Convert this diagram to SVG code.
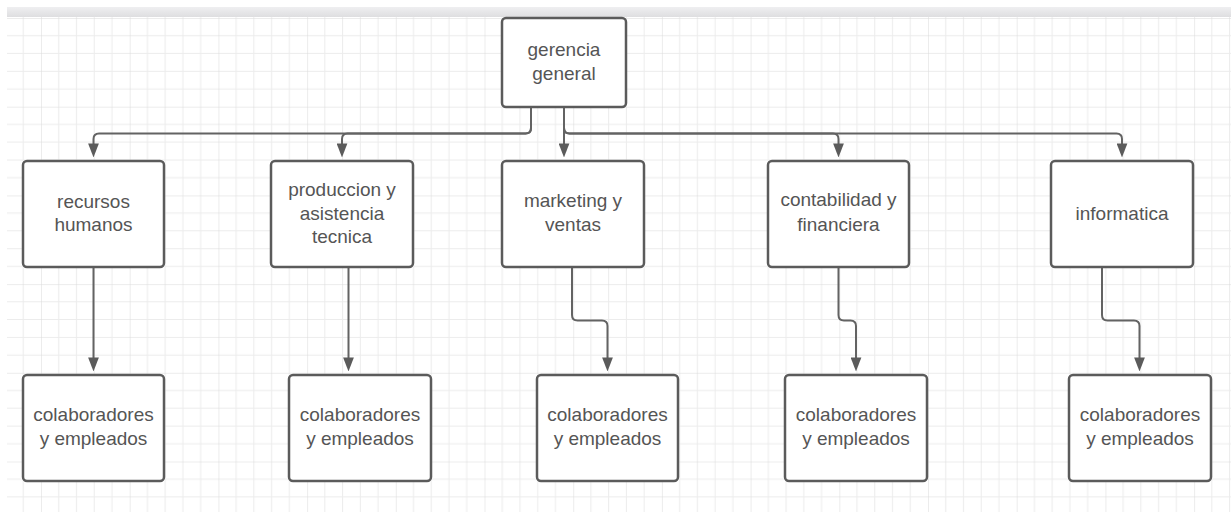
<svg xmlns="http://www.w3.org/2000/svg" width="1231" height="512" viewBox="0 0 1231 512">
<style>
.box{fill:#ffffff;stroke:#5b5b5b;stroke-width:2.5}
.lbl{font-family:"Liberation Sans",Arial,sans-serif;font-size:19px;fill:#555555;text-anchor:middle}
.con{fill:none;stroke:#636363;stroke-width:2;marker-end:url(#arr)}
</style>
<defs>
<pattern id="grid" x="41" y="18" width="88.7" height="88.7" patternUnits="userSpaceOnUse">
<path d="M17.74,0V88.7M35.48,0V88.7M53.22,0V88.7M70.96,0V88.7M0,17.74H88.7M0,35.48H88.7M0,53.22H88.7M0,70.96H88.7" stroke="#ececec" stroke-width="1" fill="none"/>
<path d="M0,0V88.7M0,0H88.7" stroke="#dadada" stroke-width="1" fill="none"/>
</pattern>
<linearGradient id="band" x1="0" y1="0" x2="0" y2="1">
<stop offset="0" stop-color="#efeff1"/>
<stop offset="1" stop-color="#dedee0"/>
</linearGradient>
<marker id="arr" markerUnits="userSpaceOnUse" markerWidth="14" markerHeight="11" viewBox="0 0 13 10" refX="7" refY="5" orient="auto">
<path d="M0,0L13,5L0,10z" fill="#5b5b5b"/>
</marker>
</defs>
<rect x="0" y="0" width="1231" height="512" fill="#ffffff"/>
<rect x="7" y="17" width="1224" height="495" fill="url(#grid)"/>
<rect x="7" y="7" width="1224" height="10" fill="url(#band)"/>

<g id="connectors">
<path class="con" d="M531,107V128Q531,133.5 525.5,133.5H99Q93.5,133.5 93.5,139V151"/>
<path class="con" d="M531,107V128Q531,133.5 525.5,133.5H347.5Q342,133.5 342,139V151"/>
<path class="con" d="M564,107V151"/>
<path class="con" d="M564,107V128Q564,133.5 569.5,133.5H833Q838.5,133.5 838.5,139V151"/>
<path class="con" d="M564,107V128Q564,133.5 569.5,133.5H1116.5Q1122,133.5 1122,139V151"/>
<path class="con" d="M93.5,267V365"/>
<path class="con" d="M348.5,267V365"/>
<path class="con" d="M572,267V315Q572,320.5 577.5,320.5H602Q607.5,320.5 607.5,326V365"/>
<path class="con" d="M838.5,267V315Q838.5,320.5 844,320.5H850.5Q856,320.5 856,326V365"/>
<path class="con" d="M1102,267V315Q1102,320.5 1107.5,320.5H1134Q1139.5,320.5 1139.5,326V365"/>
</g>

<g id="gerencia">
<rect class="box" x="502" y="18" width="124" height="89" rx="4"/>
<text class="lbl" x="564" y="55.7">gerencia</text>
<text class="lbl" x="564" y="79.7">general</text>
</g>

<g id="recursos">
<rect class="box" x="23" y="161" width="141" height="106" rx="4"/>
<text class="lbl" x="93.5" y="207.5">recursos</text>
<text class="lbl" x="93.5" y="231">humanos</text>
</g>

<g id="produccion">
<rect class="box" x="271" y="161" width="142" height="106" rx="4"/>
<text class="lbl" x="342" y="196">produccion y</text>
<text class="lbl" x="342" y="219.7">asistencia</text>
<text class="lbl" x="342" y="243.4">tecnica</text>
</g>

<g id="marketing">
<rect class="box" x="502" y="161" width="142" height="106" rx="4"/>
<text class="lbl" x="573" y="206.8">marketing y</text>
<text class="lbl" x="573" y="230.7">ventas</text>
</g>

<g id="contabilidad">
<rect class="box" x="768" y="161" width="141" height="106" rx="4"/>
<text class="lbl" x="838.5" y="206.3">contabilidad y</text>
<text class="lbl" x="838.5" y="230.7">financiera</text>
</g>

<g id="informatica">
<rect class="box" x="1051" y="161" width="142" height="106" rx="4"/>
<text class="lbl" x="1122" y="220">informatica</text>
</g>

<g id="colab1">
<rect class="box" x="23" y="375" width="141" height="106" rx="4"/>
<text class="lbl" x="93.5" y="420.7">colaboradores</text>
<text class="lbl" x="93.5" y="444.7">y empleados</text>
</g>

<g id="colab2">
<rect class="box" x="289" y="375" width="142" height="106" rx="4"/>
<text class="lbl" x="360" y="420.7">colaboradores</text>
<text class="lbl" x="360" y="444.7">y empleados</text>
</g>

<g id="colab3">
<rect class="box" x="537" y="375" width="141" height="106" rx="4"/>
<text class="lbl" x="607.5" y="420.7">colaboradores</text>
<text class="lbl" x="607.5" y="444.7">y empleados</text>
</g>

<g id="colab4">
<rect class="box" x="785" y="375" width="142" height="106" rx="4"/>
<text class="lbl" x="856" y="420.7">colaboradores</text>
<text class="lbl" x="856" y="444.7">y empleados</text>
</g>

<g id="colab5">
<rect class="box" x="1069" y="375" width="142" height="106" rx="4"/>
<text class="lbl" x="1140" y="420.7">colaboradores</text>
<text class="lbl" x="1140" y="444.7">y empleados</text>
</g>
</svg>
